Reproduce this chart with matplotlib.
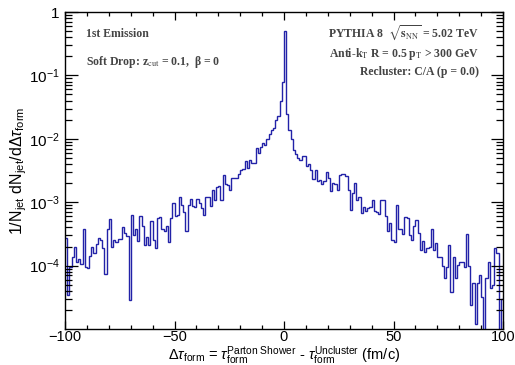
import numpy as np
import matplotlib
matplotlib.use("Agg")
import matplotlib.pyplot as plt
from matplotlib.ticker import FixedLocator, MultipleLocator, LogLocator, NullFormatter

# Histogram definition: 200 bins of 1 fm/c between -100 and 100
x_range = (-100.0, 100.0)
n_bins = 200

# 1/N_jet dN_jet/dDelta tau_form per bin, left to right (10 bins per row)
density = [
    2.69e-4, 3.39e-5, 9.55e-5, 1.35e-4, 2.00e-4, 1.12e-4, 1.26e-4, 1.07e-4, 3.80e-4, 9.55e-5,
    9.12e-5, 1.41e-4, 1.95e-4, 1.58e-4, 2.19e-4, 2.69e-4, 2.57e-4, 1.91e-4, 7.41e-5, 3.72e-4,
    5.50e-4, 2.00e-4, 2.51e-4, 2.34e-4, 2.63e-4, 2.63e-4, 4.07e-4, 3.24e-4, 2.88e-4, 2.88e-5,
    6.31e-4, 3.09e-4, 3.80e-4, 2.40e-4, 6.03e-4, 4.17e-4, 2.14e-4, 2.82e-4, 2.14e-4, 5.01e-4,
    2.57e-4, 1.91e-4, 5.62e-4, 5.75e-4, 3.72e-4, 3.47e-4, 4.27e-4, 2.34e-4, 5.62e-4, 9.77e-4,
    6.03e-4, 6.17e-4, 1.23e-3, 9.12e-4, 7.08e-4, 3.55e-4, 9.12e-4, 1.12e-3, 8.71e-4, 8.32e-4,
    1.12e-3, 9.77e-4, 8.13e-4, 6.17e-4, 1.20e-3, 1.23e-3, 8.71e-4, 1.58e-3, 1.07e-3, 1.74e-3,
    1.78e-3, 1.10e-3, 2.69e-3, 1.95e-3, 1.86e-3, 1.58e-3, 2.40e-3, 2.45e-3, 2.45e-3, 2.82e-3,
    3.24e-3, 3.31e-3, 4.47e-3, 3.47e-3, 4.57e-3, 4.17e-3, 4.17e-3, 7.08e-3, 6.03e-3, 7.41e-3,
    8.51e-3, 7.94e-3, 1.00e-2, 1.17e-2, 1.38e-2, 1.48e-2, 2.00e-2, 2.29e-2, 3.98e-2, 7.76e-2,
    5.01e-1, 2.45e-2, 1.38e-2, 1.00e-2, 6.61e-3, 5.75e-3, 5.01e-3, 4.57e-3, 5.37e-3, 5.37e-3,
    3.72e-3, 4.07e-3, 3.24e-3, 2.29e-3, 3.24e-3, 2.19e-3, 2.24e-3, 1.95e-3, 2.19e-3, 2.95e-3,
    2.45e-3, 1.48e-3, 2.04e-3, 1.95e-3, 1.58e-3, 2.69e-3, 2.75e-3, 2.75e-3, 2.57e-3, 1.58e-3,
    7.59e-4, 1.41e-3, 2.04e-3, 1.07e-3, 1.20e-3, 6.76e-4, 8.32e-4, 7.24e-4, 8.13e-4, 8.32e-4,
    1.10e-3, 7.24e-4, 7.08e-4, 6.46e-4, 1.10e-3, 1.07e-3, 6.03e-4, 3.47e-4, 4.68e-4, 2.57e-4,
    2.34e-4, 9.12e-4, 3.72e-4, 3.80e-4, 3.16e-4, 5.75e-4, 5.62e-4, 3.09e-4, 2.57e-4, 4.27e-4,
    5.25e-4, 3.24e-4, 1.74e-4, 2.45e-4, 1.66e-4, 1.91e-4, 1.95e-4, 3.72e-4, 1.78e-4, 2.24e-4,
    1.38e-4, 1.35e-4, 1.00e-4, 6.31e-5, 9.55e-5, 2.14e-4, 3.89e-5, 1.38e-4, 6.46e-5, 1.02e-4,
    1.12e-4, 1.15e-4, 9.55e-5, 3.16e-4, 1.00e-4, 2.40e-5, 5.37e-5, 1.20e-5, 5.25e-5, 7.08e-5,
    3.24e-5, 0.0, 6.46e-5, 1.12e-4, 4.47e-5, 5.01e-5, 1.91e-4, 1.58e-4, 0.0, 3.02e-5,
]

x_major_ticks = [-100, -50, 0, 50, 100]
y_major_ticks = [1e-4, 1e-3, 1e-2, 1e-1, 1.0]
y_tick_labels = [r"$10^{-4}$", r"$10^{-3}$", r"$10^{-2}$", r"$10^{-1}$", "1"]

left_notes = ["1st Emission",
              r"Soft Drop: z$_{\rm cut}$ = 0.1,  β = 0"]
right_notes = [r"PYTHIA 8  $\sqrt{\mathbf{s}_{\rm NN}}$ = 5.02 TeV",
               r"Anti-k$_{\rm T}$ R = 0.5 p$_{\rm T}$ > 300 GeV",
               "Recluster: C/A (p = 0.0)"]

plt.rcParams['font.family'] = ['Liberation Sans', 'DejaVu Sans']
plt.rcParams['mathtext.fontset'] = 'custom'
plt.rcParams['mathtext.rm'] = 'Liberation Sans'
plt.rcParams['mathtext.it'] = 'Liberation Sans:italic'
plt.rcParams['mathtext.bf'] = 'Liberation Sans:bold'
plt.rcParams['mathtext.sf'] = 'Liberation Sans'

W, H = 515, 365
fig = plt.figure(figsize=(W / 100, H / 100), dpi=100)
ax = fig.add_axes([65 / W, 1 - 329 / H, (503 - 65) / W, (329 - 12) / H])

edges = np.linspace(x_range[0], x_range[1], n_bins + 1)
vals = np.asarray(density, dtype=float)
# empty bins drop to the bottom of the frame on a log axis
drawn = np.where(vals > 0, vals, 1e-9)
ax.stairs(drawn, edges, baseline=None, color='#2222a8', lw=1.0)

ax.set_yscale('log')
ax.set_xlim(*x_range)
ax.set_ylim(1e-5, 1.0)

ax.xaxis.set_major_locator(FixedLocator(x_major_ticks))
ax.xaxis.set_minor_locator(MultipleLocator(10))
ax.yaxis.set_major_locator(FixedLocator(y_major_ticks))
ax.set_yticklabels(y_tick_labels)
ax.yaxis.set_minor_locator(LogLocator(base=10, subs=np.arange(2, 10)))
ax.yaxis.set_minor_formatter(NullFormatter())

ax.tick_params(which='both', direction='in', top=True, right=True, width=0.9,
               labelsize=11, color='black')
ax.tick_params(axis='x', which='major', length=6, pad=1, labelsize=10.5)
ax.tick_params(axis='x', which='minor', length=3)
ax.tick_params(axis='y', which='major', length=9, pad=4)
ax.tick_params(axis='y', which='minor', length=5)
for sp in ax.spines.values():
    sp.set_linewidth(1.0)

fig.text(19 / W, 1 - 171 / H,
         r"1/N$_{\rm jet}$ dN$_{\rm jet}$/d$\Delta\tau_{\rm form}$",
         rotation=90, ha='center', va='center', fontsize=11.5)
fig.text(284 / W, 1 - 359.5 / H,
         r"$\Delta\tau_{\rm form}$ = $\tau_{\rm form}^{\rm Parton\ Shower}$ - "
         r"$\tau_{\rm form}^{\rm Uncluster}$ (fm/c)",
         ha='center', va='baseline', fontsize=10.5)

note_kw = dict(family='Liberation Serif', fontweight='bold', fontsize=8.5,
               color='#444444', math_fontfamily='stix', va='baseline')
for txt, yb in zip(left_notes, [37, 65.5]):
    fig.text(86 / W, 1 - yb / H, txt, ha='left', **note_kw)
for txt, yb in zip(right_notes, [37, 57, 75]):
    fig.text(479 / W, 1 - yb / H, txt, ha='right', **note_kw)

fig.savefig('out.png', dpi=100)
